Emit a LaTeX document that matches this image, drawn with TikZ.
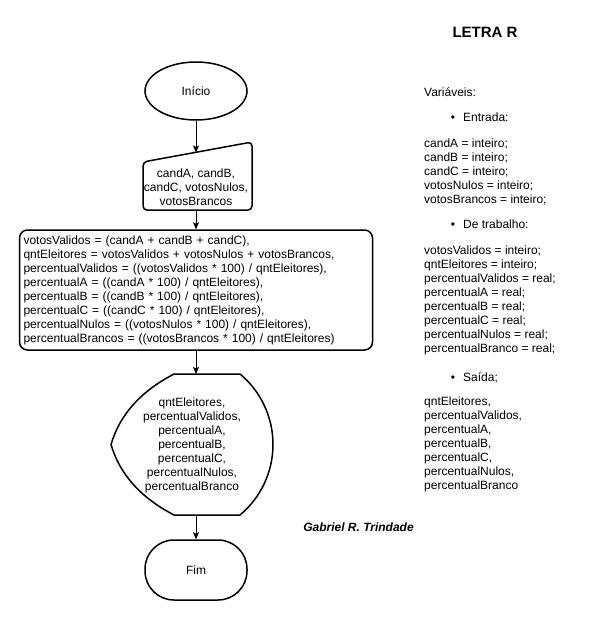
\documentclass[tikz,border=0pt]{standalone}
\usepackage{fontspec}
\setmainfont{Liberation Sans}
\usetikzlibrary{arrows.meta,shapes.geometric}
\begin{document}
\begin{tikzpicture}[x=1pt,y=-1pt,
  txt/.style={font=\fontsize{12}{14}\selectfont, inner sep=0pt, text=black},
  shp/.style={draw=black, line width=1.5pt},
  arr/.style={draw=black, line width=0.9pt, -{Stealth[length=7pt,width=6pt,inset=1.5pt]}}]
\useasboundingbox[fill=white] (0,0) rectangle (593,622);

% title
\node[txt, font=\fontsize{15}{18}\selectfont\bfseries] (title) at (485,32) {LETRA R};

% start
\node[shp, ellipse, txt, minimum width=102pt, minimum height=58pt] (ini) at (196,91) {Início};

% manual input
\draw[shp, rounded corners=4pt] (143,162) -- (252,142) -- (252,210) -- (143,210) -- cycle;
\node[txt, align=center] (inp) at (196,187) {candA, candB,\\candC, votosNulos,\\votosBrancos};
\coordinate (inTop) at (196,152.5);
\coordinate (inBot) at (196,210);

% process
\node[shp, rounded corners=8pt, txt, minimum width=353pt, minimum height=120pt,
      text width=345pt, align=left, inner xsep=4pt] (proc) at (196,290) {%
votosValidos = (candA + candB + candC),\\
qntEleitores = votosValidos + votosNulos + votosBrancos,\\
percentualValidos = ((votosValidos * 100) / qntEleitores),\\
percentualA = ((candA * 100) / qntEleitores),\\
percentualB = ((candB * 100) / qntEleitores),\\
percentualC = ((candC * 100) / qntEleitores),\\
percentualNulos = ((votosNulos * 100) / qntEleitores),\\
percentualBrancos = ((votosBrancos * 100) / qntEleitores)};

% display
\draw[shp] (111,444.5) .. controls (119.7,414.8) and (140.7,391.3) .. (174,374)
  -- (240,374) .. controls (260.9,391.4) and (273,417.3) .. (273,444.5)
  .. controls (273,471.7) and (260.9,497.6) .. (240,515)
  -- (174,515) .. controls (140.7,497.7) and (119.7,474.2) .. cycle;
\node[txt, align=center] (out) at (192,445.5) {qntEleitores,\\percentualValidos,\\percentualA,\\percentualB,\\percentualC,\\percentualNulos,\\percentualBranco};
\coordinate (dTop) at (196,374);
\coordinate (dBot) at (196,515);

% end
\node[shp, rectangle, rounded corners=29pt, txt, minimum width=102pt, minimum height=60pt] (fim) at (196,570) {Fim};

% connectors
\draw[arr] (ini) -- (inTop);
\draw[arr] (inBot) -- (proc);
\draw[arr] (proc) -- (dTop);
\draw[arr] (dBot) -- (fim);

% author
\node[txt, font=\fontsize{12}{14}\selectfont\bfseries\itshape] (auth) at (358.5,527) {Gabriel R. Trindade};

% variables column
\node[txt, anchor=base west] (var) at (424,96) {Variáveis:};
\node[txt, anchor=base] (bu1) at (453,121) {•};
\node[txt, anchor=base west] (h1) at (463,121) {Entrada:};
\foreach \t [count=\i] in {{candA = inteiro;},{candB = inteiro;},{candC = inteiro;},{votosNulos = inteiro;},{votosBrancos = inteiro;}}
  \node[txt, anchor=base west] (e\i) at (424,{133+14*\i}) {\t};
\node[txt, anchor=base] (bu2) at (453,228) {•};
\node[txt, anchor=base west] (h2) at (463,228) {De trabalho:};
\foreach \t [count=\i] in {{votosValidos = inteiro;},{qntEleitores = inteiro;},{percentualValidos = real;},{percentualA = real;},{percentualB = real;},{percentualC = real;},{percentualNulos = real;},{percentualBranco = real;}}
  \node[txt, anchor=base west] (w\i) at (424,{240+14*\i}) {\t};
\node[txt, anchor=base] (bu3) at (453,381) {•};
\node[txt, anchor=base west] (h3) at (463,381) {Saída;};
\foreach \t [count=\i] in {{qntEleitores,},{percentualValidos,},{percentualA,},{percentualB,},{percentualC,},{percentualNulos,},{percentualBranco}}
  \node[txt, anchor=base west] (s\i) at (424,{391+14*\i}) {\t};
\end{tikzpicture}
\end{document}
